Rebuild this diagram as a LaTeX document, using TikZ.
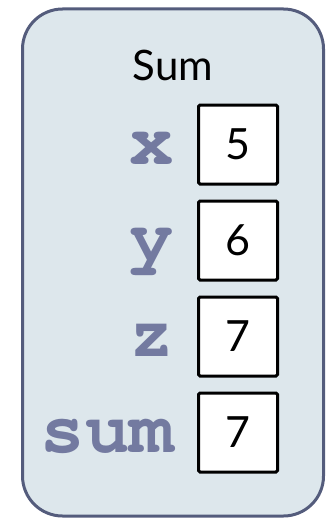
\documentclass[tikz,border=0pt]{standalone}
\usepackage{fontspec}
\setmainfont{Lato}
\newfontfamily\codefont{texgyrecursor-bold.otf}
\usetikzlibrary{positioning}
\definecolor{frameline}{RGB}{84,92,124}
\definecolor{framefill}{RGB}{221,231,236}
\definecolor{varname}{RGB}{115,122,160}
\tikzset{
  frame/.style={draw=frameline,fill=framefill,line width=3pt,rounded corners=40pt},
  valbox/.style={draw=black,fill=white,line width=3pt,rounded corners=1.5pt,
    minimum width=79pt,minimum height=79pt,inner sep=0pt,
    font=\fontsize{43}{43}\selectfont},
  varlbl/.style={text=varname,inner sep=0pt,anchor=base east,
    font=\codefont\fontsize{74}{74}\selectfont},
  title/.style={inner sep=0pt,anchor=base,font=\fontsize{42}{42}\selectfont}
}
\begin{document}
\begin{tikzpicture}[x=1pt,y=-1pt]
  \useasboundingbox (0,0) rectangle (326,519);
  \draw[frame] (22.5,9) rectangle (323.5,516);
  \node[title] (name) at (173,81) {Sum};
  \foreach \i/\v/\val in {0/x/5,1/y/6,2/z/7,3/sum/7}{
    \node[valbox] (b\i) at (238,144.5+\i*96) {\val};
    \node[varlbl] (l\i) at (174,164.5+\i*96) {\v};
  }
\end{tikzpicture}
\end{document}
